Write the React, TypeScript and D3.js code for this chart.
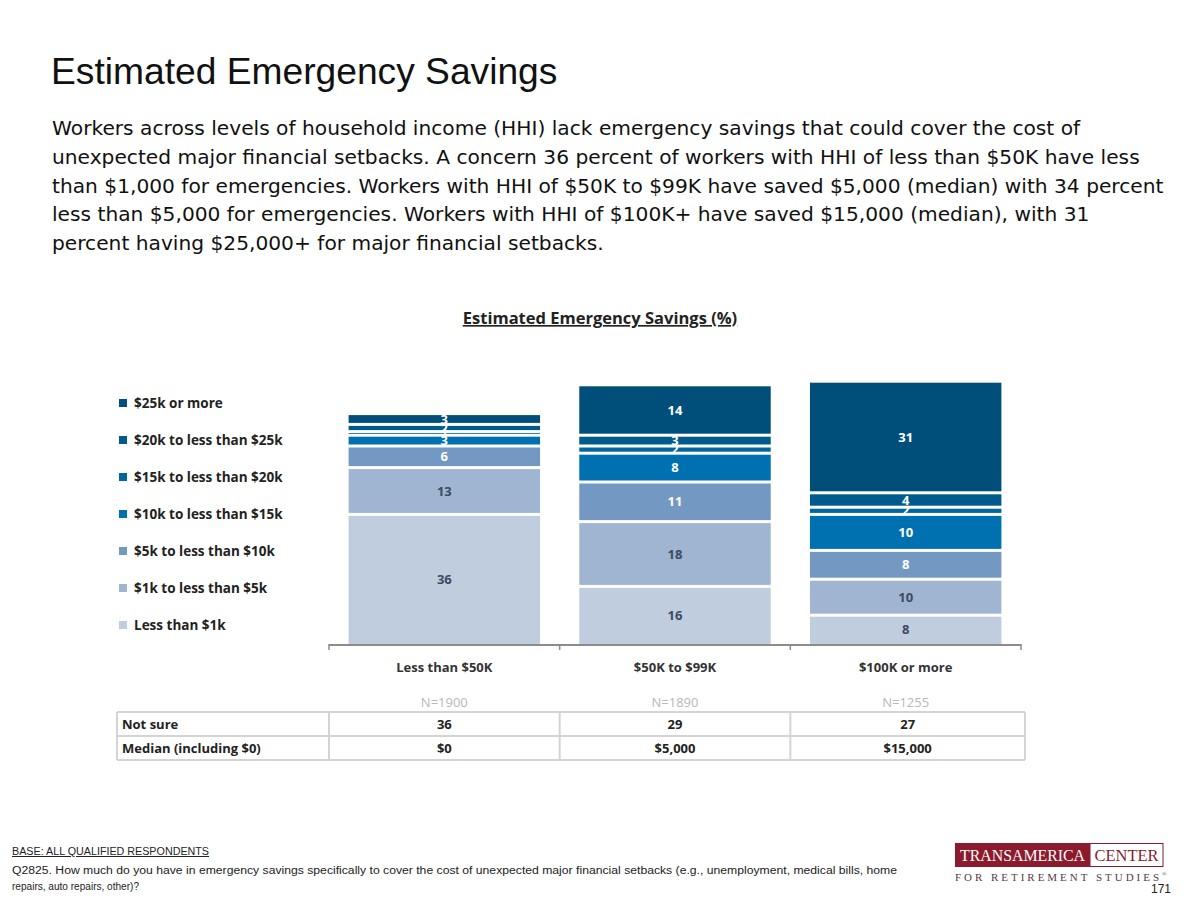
import * as d3 from "d3";

// categories on the x axis
const incomeGroups = ["Less than $50K", "$50K to $99K", "$100K or more"];
const sampleSizes = ["N=1900", "N=1890", "N=1255"];

// savings bands, bottom to top
const savingsBands = [
  "Less than $1k",
  "$1k to less than $5k",
  "$5k to less than $10k",
  "$10k to less than $15k",
  "$15k to less than $20k",
  "$20k to less than $25k",
  "$25k or more",
];
const bandColors = ["#c0cddf", "#a0b5d1", "#7399c2", "#0071b0", "#0066a0", "#005b8c", "#004f7a"];

// percent per band, one array per income group
const lessThan50k = [36, 13, 6, 3, 1, 2, 3];
const from50kTo99k = [16, 18, 11, 8, 2, 3, 14];
const over100k = [8, 10, 8, 10, 2, 4, 31];

// table rows
const notSure = ["36", "29", "27"];
const medianSavings = ["$0", "$5,000", "$15,000"];

const subtitleLines = [
  "Workers across levels of household income (HHI) lack emergency savings that could cover the cost of",
  "unexpected major financial setbacks. A concern 36 percent of workers with HHI of less than $50K have less",
  "than $1,000 for emergencies. Workers with HHI of $50K to $99K have saved $5,000 (median) with 34 percent",
  "less than $5,000 for emergencies. Workers with HHI of $100K+ have saved $15,000 (median), with 31",
  "percent having $25,000+ for major financial setbacks.",
];

const width = 1200;
const height = 900;
const axisLeft = 329;
const axisRight = 1021;
const baseY = 644;

export default function App() {
  const rows = incomeGroups.map((g, i) => {
    const vals = [lessThan50k, from50kTo99k, over100k][i];
    const r: Record<string, any> = { group: g };
    savingsBands.forEach((b, j) => (r[b] = vals[j]));
    return r;
  });
  const series = d3.stack().keys(savingsBands)(rows as any);

  const x = d3.scaleBand(incomeGroups, [axisLeft, axisRight]).paddingInner(0.17).paddingOuter(0.085);
  const y = d3.scaleLinear([0, 100], [baseY, baseY - 360]);
  const step = x.step();
  const colEdges = [117, axisLeft, axisLeft + step, axisLeft + 2 * step, 1025];

  const font = "'Open Sans', 'Noto Sans', sans-serif";
  const legendY = d3.scalePoint(savingsBands.slice().reverse(), [403, 625]);

  return (
    <div style={{ position: "absolute", left: 0, top: 0 }}>
      <svg width={width} height={height} style={{ display: "block", background: "#fff" }}>
        <text x={51} y={84} fontFamily="'Liberation Sans', Arial, sans-serif" fontSize={37.2} fill="#111">
          Estimated Emergency Savings
        </text>
        {subtitleLines.map((l, i) => (
          <text key={i} x={52} y={135 + i * 28.8} fontFamily="'DejaVu Sans', sans-serif" fontSize={20.2} fill="#111">
            {l}
          </text>
        ))}

        <text x={600} y={324} textAnchor="middle" fontFamily={font} fontWeight="bold" fontSize={16.5} fill="#222" textDecoration="underline">
          Estimated Emergency Savings (%)
        </text>

        {/* legend */}
        {savingsBands.map((b, j) => (
          <g key={b} transform={`translate(119,${legendY(b)})`}>
            <rect x={0} y={-4} width={8} height={8} fill={bandColors[j]} />
            <text x={15} y={4.5} fontFamily={font} fontWeight="bold" fontSize={13.5} fill="#222">
              {b}
            </text>
          </g>
        ))}

        {/* stacked bars */}
        {series.map((s, j) => (
          <g key={s.key} fill={bandColors[j]}>
            {s.map((d, i) => {
              const top = y(d[1]);
              const bot = y(d[0]);
              return (
                <rect key={i} x={x(incomeGroups[i])} y={top + 1.5} width={x.bandwidth()} height={Math.max(0.8, bot - top - 3 + (j === 0 ? 1.5 : 0))} />
              );
            })}
          </g>
        ))}
        {series.map((s, j) => (
          <g key={s.key + "l"}>
            {s.map((d, i) => (
              <text
                key={i}
                x={(x(incomeGroups[i]) as number) + x.bandwidth() / 2}
                y={(y(d[0]) + y(d[1])) / 2 + 4.5}
                textAnchor="middle"
                fontFamily={font}
                fontWeight="bold"
                fontSize={13}
                fill={j < 2 ? "#3b4a63" : "#fff"}
              >
                {d[1] - d[0]}
              </text>
            ))}
          </g>
        ))}

        {/* category axis */}
        <line x1={axisLeft} x2={axisRight} y1={baseY + 1} y2={baseY + 1} stroke="#8c8c8c" strokeWidth={2} />
        {[0, 1, 2, 3].map((k) => (
          <line key={k} x1={axisLeft + k * step} x2={axisLeft + k * step} y1={baseY} y2={baseY + 6} stroke="#8c8c8c" strokeWidth={1.5} />
        ))}
        {incomeGroups.map((g, i) => (
          <g key={g}>
            <text x={(x(g) as number) + x.bandwidth() / 2} y={672} textAnchor="middle" fontFamily={font} fontWeight="bold" fontSize={13} fill="#333">
              {g}
            </text>
            <text x={(x(g) as number) + x.bandwidth() / 2} y={707} textAnchor="middle" fontFamily={font} fontSize={13} fill="#b8b8b8">
              {sampleSizes[i]}
            </text>
          </g>
        ))}

        {/* table */}
        {[
          ["Not sure", notSure],
          ["Median (including $0)", medianSavings],
        ].map(([label, vals], r) => {
          const top = 712 + r * 24;
          return (
            <g key={label as string}>
              <text x={122} y={top + 16.5} fontFamily={font} fontWeight="bold" fontSize={13} fill="#222">
                {label as string}
              </text>
              {(vals as string[]).map((v, i) => (
                <text key={i} x={(colEdges[i + 1] + colEdges[i + 2]) / 2} y={top + 16.5} textAnchor="middle" fontFamily={font} fontWeight="bold" fontSize={13} fill="#222">
                  {v}
                </text>
              ))}
            </g>
          );
        })}
        <g stroke="#d4d4d4" strokeWidth={2} fill="none">
          {[712, 736, 760].map((yy) => (
            <line key={yy} x1={117} x2={1025} y1={yy} y2={yy} />
          ))}
          {colEdges.map((xx) => (
            <line key={xx} x1={xx} x2={xx} y1={712} y2={760} />
          ))}
        </g>

        {/* footer */}
        <text x={12} y={855} fontFamily="'Liberation Sans Narrow', 'Liberation Sans', sans-serif" fontSize={10} fill="#222" textDecoration="underline" textLength={197} lengthAdjust="spacingAndGlyphs">
          BASE: ALL QUALIFIED RESPONDENTS
        </text>
        <text x={12} y={874} fontFamily="'Liberation Sans', sans-serif" fontSize={10} fill="#222" textLength={885} lengthAdjust="spacingAndGlyphs">
          Q2825. How much do you have in emergency savings specifically to cover the cost of unexpected major financial setbacks (e.g., unemployment, medical bills, home
        </text>
        <text x={12} y={890} fontFamily="'Liberation Sans', sans-serif" fontSize={10} fill="#222" textLength={127} lengthAdjust="spacingAndGlyphs">
          repairs, auto repairs, other)?
        </text>

        {/* logo */}
        <rect x={955} y={843} width={135} height={24} fill="#8b1a2c" />
        <rect x={1090} y={843.5} width={73} height={23} fill="#fff" stroke="#8b1a2c" strokeWidth={1} />
        <text x={1022.5} y={861} textAnchor="middle" fontFamily="'Liberation Serif', serif" fontSize={16} fill="#fff" textLength={125} lengthAdjust="spacingAndGlyphs">
          TRANSAMERICA
        </text>
        <text x={1126.5} y={861} textAnchor="middle" fontFamily="'Liberation Serif', serif" fontSize={16} fill="#8b1a2c" textLength={64} lengthAdjust="spacingAndGlyphs">
          CENTER
        </text>
        <text x={955} y={881} fontFamily="'Liberation Serif', serif" fontSize={11} fill="#5a3a3f" textLength={204} lengthAdjust="spacing">
          FOR RETIREMENT STUDIES
        </text>
        <text x={1162} y={876} fontFamily="'Liberation Serif', serif" fontSize={6} fill="#5a3a3f">®</text>
        <text x={1171} y={893} textAnchor="end" fontFamily="'Liberation Sans Narrow', 'Liberation Sans', sans-serif" fontSize={12} fill="#222">
          171
        </text>
      </svg>
    </div>
  );
}
